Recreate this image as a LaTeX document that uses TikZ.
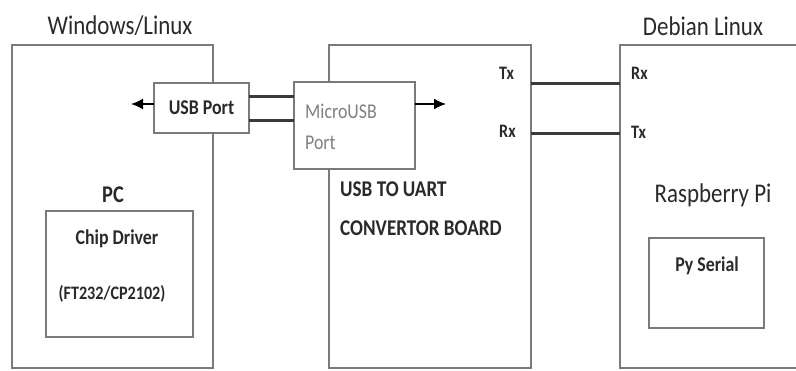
\documentclass[tikz,border=0pt]{standalone}
\usepackage{fontspec}
\setmainfont{Carlito}[FakeStretch=0.85]
\usetikzlibrary{arrows.meta}
\definecolor{boxline}{HTML}{7A7A7A}
\definecolor{txt}{HTML}{2A2A2A}
\definecolor{wirec}{HTML}{3A3A3A}
\tikzset{
  box/.style={draw=boxline, line width=1.6pt, inner sep=0pt, outer sep=0pt, anchor=north west},
  wbox/.style={box, fill=white},
  title/.style={text=txt, font=\fontsize{27}{30}\selectfont, inner sep=0pt},
  lbl/.style={text=txt, font=\bfseries\fontsize{21}{24}\selectfont, inner sep=0pt},
  small/.style={text=txt, font=\bfseries\fontsize{19}{22}\selectfont, inner sep=0pt},
  wire/.style={draw=wirec, line width=3pt},
  flow/.style={draw=black, line width=1.5pt, -{Latex[length=12pt,width=11pt]}}
}
\begin{document}
\begin{tikzpicture}[x=1pt,y=-1pt]
\useasboundingbox[fill=white] (0,0) rectangle (796,370);
% main boxes
\node[box, minimum width=201pt, minimum height=323pt] (pc) at (12,45) {};
\node[box, minimum width=202pt, minimum height=323pt] (mid) at (329,45) {};
\node[box, minimum width=200pt, minimum height=323pt] (rpi) at (620,45) {};
% titles
\node[title] (wl) at (120,26) {Windows/Linux};
\node[title] (deb) at (703,26) {Debian Linux};
% PC contents
\node[lbl, font=\bfseries\fontsize{24}{26}\selectfont] (pclbl) at (113,195) {PC};
\node[box, minimum width=147pt, minimum height=126pt] (chip) at (46,211) {};
\node[lbl] (chipt) at (117,239) {Chip Driver};
\node[small] (chipn) at (112,294) {(FT232/CP2102)};
% USB port
\node[wbox, minimum width=95pt, minimum height=50pt] (usb) at (154,83) {};
\node[lbl] (usbt) at (usb.center) {USB Port};
% MicroUSB port
\node[wbox, minimum width=121pt, minimum height=87pt] (micro) at (294,82) {};
\node[text=gray, font=\fontsize{21}{24}\selectfont, inner sep=0pt, anchor=west] (microt1) at (305,111) {MicroUSB};
\node[text=gray, font=\fontsize{21}{24}\selectfont, inner sep=0pt, anchor=west] (microt2) at (305,143) {Port};
% middle board labels
\node[small, anchor=west] (btx) at (499,73) {Tx};
\node[small, anchor=west] (brx) at (499,131) {Rx};
\node[lbl, font=\bfseries\fontsize{22.5}{25}\selectfont, anchor=west] (conv1) at (340,189) {USB TO UART};
\node[lbl, font=\bfseries\fontsize{22.5}{25}\selectfont, anchor=west] (conv2) at (340,228) {CONVERTOR BOARD};
% Raspberry Pi labels
\node[small, anchor=west] (prx) at (631,73) {Rx};
\node[small, anchor=west] (ptx) at (631,132) {Tx};
\node[title] (rpit) at (713,195) {Raspberry Pi};
\node[box, minimum width=115pt, minimum height=90pt] (pys) at (649,238) {};
\node[lbl] (pyst) at (707,266) {Py Serial};
% wires USB <-> MicroUSB
\draw[wire] ([yshift=12pt]usb.east) coordinate (u1) -- (micro.west |- u1);
\draw[wire] ([yshift=-12pt]usb.east) coordinate (u2) -- (micro.west |- u2);
% wires Tx/Rx
\draw[wire] ([yshift=-38pt]mid.north east) -- ([yshift=-38pt]rpi.north west);
\draw[wire] ([yshift=-88pt]mid.north east) -- ([yshift=-88pt]rpi.north west);
% arrows
\coordinate (pcin) at (131,104);
\draw[flow] (usb.west |- pcin) -- (pcin);
\coordinate (midin) at (446,104);
\draw[flow] (micro.east |- midin) -- (midin);
\end{tikzpicture}
\end{document}
